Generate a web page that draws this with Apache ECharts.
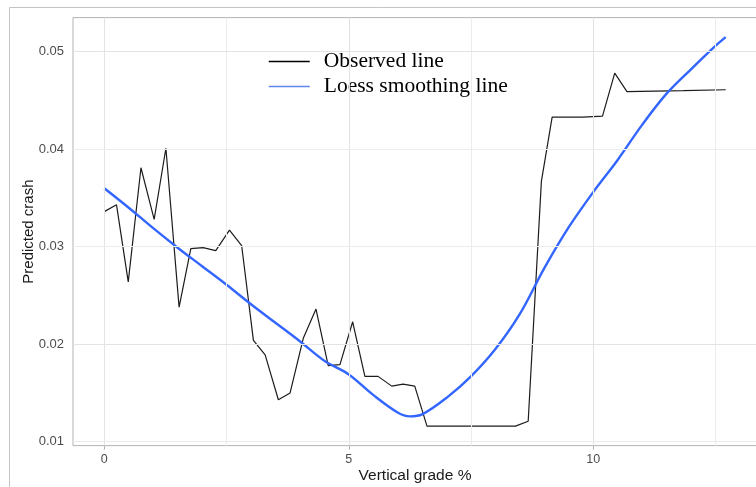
<!DOCTYPE html>
<html>
<head>
<meta charset="utf-8">
<script src="https://cdn.jsdelivr.net/npm/echarts@6/dist/echarts.min.js"></script>
<style>
  html, body { margin: 0; padding: 0; background: #ffffff; }
  #chart { width: 756px; height: 487px; }
</style>
</head>
<body>
<div id="chart"></div>
<script>
// Observed predicted crash by vertical grade (x = grade %, y = predicted crash)
const observedX = [0, 0.25, 0.49, 0.75, 1.02, 1.26, 1.53, 1.77, 2.02, 2.28, 2.56, 2.81,
  3.05, 3.29, 3.56, 3.80, 4.07, 4.33, 4.58, 4.82, 5.08, 5.33, 5.60, 5.88, 6.11, 6.35,
  6.60, 8.41, 8.67, 8.94, 9.16, 9.79, 10.19, 10.44, 10.69, 11.84, 12.71];
const observedY = [0.0336, 0.0343, 0.0264, 0.0381, 0.0328, 0.0401, 0.0238, 0.0298, 0.0299,
  0.0296, 0.0317, 0.0301, 0.0204, 0.0189, 0.0143, 0.0150, 0.0206, 0.0236, 0.0178, 0.0179,
  0.0223, 0.0167, 0.0167, 0.0157, 0.0159, 0.0157, 0.0116, 0.0116, 0.0121, 0.0367, 0.0433,
  0.0433, 0.0434, 0.0478, 0.0459, 0.0460, 0.0461];

// Loess fit of the observed values
const loessX = [0, 0.5, 1, 1.5, 2, 2.5, 3, 3.5, 4, 4.5, 5, 5.5, 6, 6.25, 6.5, 7, 7.5, 8,
  8.5, 9, 9.5, 10, 10.5, 11, 11.5, 12, 12.5, 12.71];
const loessY = [0.0360, 0.0340, 0.0319, 0.0299, 0.0280, 0.0261, 0.0241, 0.0222, 0.0203,
  0.0183, 0.0169, 0.0148, 0.0130, 0.0126, 0.0128, 0.0145, 0.0167, 0.0195, 0.0231, 0.0278,
  0.0320, 0.0356, 0.0389, 0.0425, 0.0457, 0.0482, 0.0506, 0.0515];

// Axis ticks and grid positions
const xTicks = [0, 5, 10];
const xMinorGrid = [2.5, 7.5, 12.5];
const yTicks = [0.01, 0.02, 0.03, 0.04, 0.05];
const yTickLabels = ['0.01', '0.02', '0.03', '0.04', '0.05'];
const yMinorGrid = [0.015, 0.025, 0.035, 0.045];

const seriesNames = ['Observed line', 'Loess smoothing line'];

const zip = (xs, ys) => xs.map((x, i) => [x, ys[i]]);

const majorGrid = { color: '#e3e3e3', width: 1.1, type: 'solid' };
const minorGrid = { color: '#ececec', width: 1, type: 'solid' };
const gridLines = [];
xTicks.forEach(v => gridLines.push({ xAxis: v, lineStyle: majorGrid }));
xMinorGrid.forEach(v => gridLines.push({ xAxis: v, lineStyle: minorGrid }));
yTicks.forEach(v => gridLines.push({ yAxis: v, lineStyle: majorGrid }));
yMinorGrid.forEach(v => gridLines.push({ yAxis: v, lineStyle: minorGrid }));

const chart = echarts.init(document.getElementById('chart'), null, { renderer: 'canvas' });

chart.setOption({
  animation: false,
  backgroundColor: '#ffffff',
  graphic: [{
    type: 'rect',
    shape: { x: 9.5, y: 7.5, width: 800, height: 520 },
    style: { fill: 'none', stroke: '#c4c4c4', lineWidth: 1 },
    silent: true, z: 0
  }],
  grid: {
    left: 73, top: 17.6, width: 684, height: 428,
    outerBoundsMode: 'none',
    containLabel: false,
    show: true, borderColor: '#b3b3b3', borderWidth: 1, backgroundColor: 'transparent'
  },
  legend: {
    data: [
      { name: seriesNames[0], itemStyle: { opacity: 0 }, lineStyle: { width: 1.3, color: '#000000' } },
      { name: seriesNames[1], itemStyle: { opacity: 0 }, lineStyle: { width: 1.5, color: '#5f86ee' } }
    ],
    orient: 'vertical',
    left: 255, top: 32,
    itemWidth: 41, itemHeight: 14, itemGap: 0,
    padding: [17, 21, 15, 13],
    backgroundColor: '#ffffff',
    borderWidth: 0,
    textStyle: {
      fontFamily: 'Liberation Serif', fontSize: 21.5, color: '#000000',
      lineHeight: 25, padding: [0, 0, 0, 9]
    },
    selectedMode: false
  },
  xAxis: {
    type: 'value',
    min: -0.64, max: 13.35,
    name: 'Vertical grade %',
    nameLocation: 'middle',
    nameGap: 22,
    nameMoveOverlap: false,
    nameTextStyle: { fontFamily: 'Liberation Sans', fontSize: 15.5, color: '#1a1a1a' },
    axisLine: { show: false },
    axisTick: { show: true, length: 4, customValues: xTicks, lineStyle: { color: '#b3b3b3' } },
    axisLabel: {
      customValues: xTicks, margin: 7,
      fontFamily: 'Liberation Sans', fontSize: 12.5, color: '#4d4d4d'
    },
    splitLine: { show: false }
  },
  yAxis: {
    type: 'value',
    min: 0.0096, max: 0.0535,
    name: 'Predicted crash',
    nameLocation: 'middle',
    nameGap: 37,
    nameMoveOverlap: false,
    nameTextStyle: { fontFamily: 'Liberation Sans', fontSize: 15, color: '#1a1a1a' },
    axisLine: { show: false },
    axisTick: { show: true, length: 4, customValues: yTicks, lineStyle: { color: '#b3b3b3' } },
    axisLabel: {
      customValues: yTicks, margin: 9,
      fontFamily: 'Liberation Sans', fontSize: 13, color: '#4d4d4d',
      formatter: v => yTickLabels[yTicks.findIndex(t => Math.abs(t - v) < 1e-9)] ?? ''
    },
    splitLine: { show: false }
  },
  series: [
    {
      name: 'panel-grid',
      type: 'line',
      data: [],
      silent: true,
      z: 1,
      markLine: {
        silent: true,
        symbol: ['none', 'none'],
        label: { show: false },
        emphasis: { disabled: true },
        animation: false,
        data: gridLines
      }
    },
    {
      name: seriesNames[0],
      type: 'line',
      data: zip(observedX, observedY),
      symbol: 'none',
      z: 3,
      lineStyle: { color: '#1c1c1c', width: 1.2 },
      itemStyle: { color: '#000000' }
    },
    {
      name: seriesNames[1],
      type: 'line',
      data: zip(loessX, loessY),
      symbol: 'none',
      smooth: 0.35,
      z: 4,
      lineStyle: { color: '#3366ff', width: 2.4 },
      itemStyle: { color: '#3366ff' }
    }
  ]
});
</script>
</body>
</html>
